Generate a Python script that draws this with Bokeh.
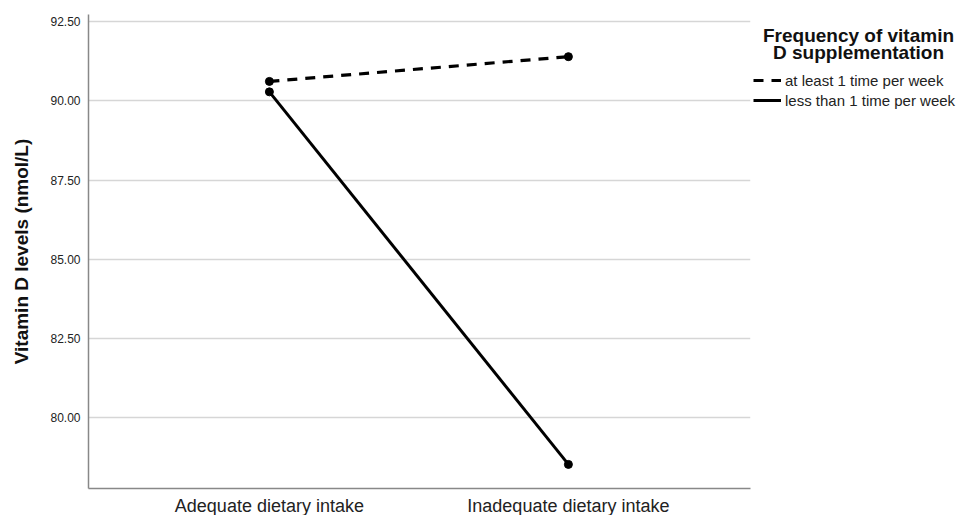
from bokeh.plotting import figure
from bokeh.layouts import row
from bokeh.models import (ColumnDataSource, FixedTicker, Legend, LegendItem, Label,
                          NumeralTickFormatter, Range1d)
from bokeh.embed import file_html
from bokeh.resources import INLINE

# ---- data ----
categories = ["Adequate dietary intake", "Inadequate dietary intake"]
series_names = ["at least 1 time per week", "less than 1 time per week"]
at_least_weekly = [90.61, 91.39]
less_than_weekly = [90.28, 78.53]
y_ticks = [80.0, 82.5, 85.0, 87.5, 90.0, 92.5]
legend_title = ["Frequency of vitamin", "D supplementation"]
y_label = "Vitamin D levels (nmol/L)"

FONT = "Liberation Sans"
xpos = list(range(len(categories)))
TOP, FH, BOT = 14, 474, 22

p = figure(frame_width=662, frame_height=FH,
           min_border_left=88, min_border_right=3, min_border_top=TOP, min_border_bottom=BOT,
           x_range=(-0.605, 1.609), y_range=(77.77, 92.72),
           output_backend="svg", toolbar_location=None)
p.outline_line_color = None
p.background_fill_color = "white"

p.xaxis.ticker = FixedTicker(ticks=xpos)
p.xaxis.major_label_overrides = {i: c for i, c in enumerate(categories)}
p.yaxis.ticker = FixedTicker(ticks=y_ticks)
p.yaxis.formatter = NumeralTickFormatter(format="0.00")
for ax in (p.xaxis[0], p.yaxis[0]):
    ax.axis_line_color = "#888888"
    ax.axis_line_width = 1.5
    ax.major_tick_line_color = None
    ax.minor_tick_line_color = None
    ax.major_tick_out = 0
    ax.major_tick_in = 0
    ax.major_label_text_font = FONT
    ax.major_label_text_color = "#222222"
p.yaxis.major_label_text_font_size = "12px"
p.yaxis.major_label_standoff = 8
p.xaxis.major_label_text_font_size = "18px"
p.xaxis.major_label_standoff = 7
p.yaxis.axis_label = y_label
p.yaxis.axis_label_text_font = FONT
p.yaxis.axis_label_text_font_style = "bold"
p.yaxis.axis_label_text_font_size = "19px"
p.yaxis.axis_label_text_color = "#111111"
p.yaxis.axis_label_standoff = 15

p.xgrid.grid_line_color = None
p.ygrid.grid_line_color = "#d6d6d6"
p.ygrid.grid_line_width = 1.5

src1 = ColumnDataSource(dict(x=xpos, y=at_least_weekly))
src2 = ColumnDataSource(dict(x=xpos, y=less_than_weekly))
l1 = p.line("x", "y", source=src1, line_color="black", line_width=3.2, line_dash="10 8")
p.scatter("x", "y", source=src1, size=8, color="black")
l2 = p.line("x", "y", source=src2, line_color="black", line_width=3)
p.scatter("x", "y", source=src2, size=8, color="black")

# ---- legend panel (separate figure whose frame is aligned with the plot frame) ----
q = figure(frame_width=205, frame_height=FH,
           min_border_left=0, min_border_right=0, min_border_top=TOP, min_border_bottom=BOT,
           x_range=Range1d(0, 1), y_range=Range1d(0, 1),
           output_backend="svg", toolbar_location=None)
q.outline_line_color = None
q.axis.visible = False
q.grid.visible = False
# same series drawn outside q's visible range; they only provide the legend samples
ql1 = q.line("x", "y", source=src1, line_color="black", line_width=3.2, line_dash="10 8")
ql2 = q.line("x", "y", source=src2, line_color="black", line_width=3)
legend = Legend(items=[LegendItem(label=series_names[0], renderers=[ql1]),
                       LegendItem(label=series_names[1], renderers=[ql2])],
                location=(0, 378), padding=0, spacing=0, margin=0,
                glyph_width=28, glyph_height=20, label_height=20, label_standoff=4,
                label_text_font=FONT, label_text_font_size="15px", label_text_color="#222222",
                border_line_alpha=0, background_fill_alpha=0)
q.add_layout(legend, "center")
for i, t in enumerate(legend_title):
    q.add_layout(Label(x=105, y=453 - 17 * i, x_units="screen", y_units="screen", text=t,
                       text_align="center", text_baseline="middle", text_font=FONT,
                       text_font_style="bold", text_font_size="19px", text_color="#111111"))

layout = row(p, q)
open("out.html", "w").write(file_html(layout, INLINE))
